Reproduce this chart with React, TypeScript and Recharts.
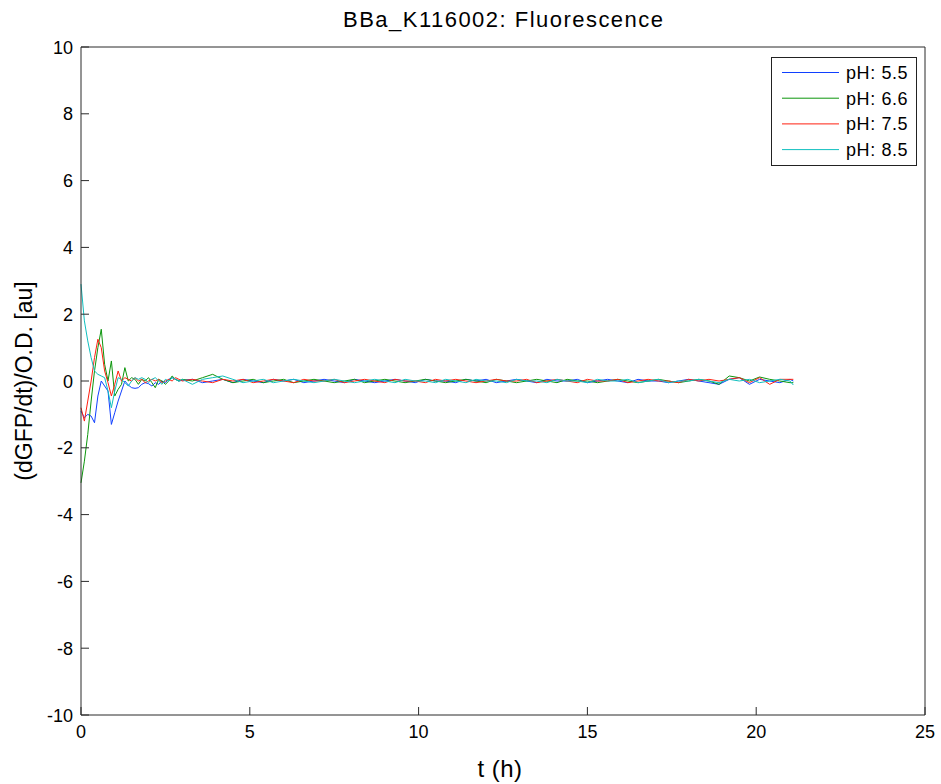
import React from 'react';
import { LineChart, Line, XAxis, YAxis, Legend, Label } from 'recharts';

// sample times in hours (dense at the start where the signal moves)
const times = [
  0, 0.1, 0.2, 0.3, 0.4, 0.5, 0.6, 0.7, 0.8, 0.9,
  1.0, 1.1, 1.2, 1.3, 1.4, 1.5, 1.6, 1.7, 1.8, 1.9,
  2.0, 2.1, 2.2, 2.3, 2.4, 2.5, 2.6, 2.7, 2.8, 2.9, 3.0,
  3.3, 3.6, 3.9, 4.2, 4.5, 4.8, 5.1, 5.4, 5.7, 6.0,
  6.3, 6.6, 6.9, 7.2, 7.5, 7.8, 8.1, 8.4, 8.7, 9.0,
  9.3, 9.6, 9.9, 10.2, 10.5, 10.8, 11.1, 11.4, 11.7, 12.0,
  12.3, 12.6, 12.9, 13.2, 13.5, 13.8, 14.1, 14.4, 14.7, 15.0,
  15.3, 15.6, 15.9, 16.2, 16.5, 16.8, 17.1, 17.4, 17.7, 18.0,
  18.3, 18.6, 18.9, 19.2, 19.5, 19.8, 20.1, 20.4, 20.7, 21.0,
  21.1,
];

const ph55 = [
  -0.9, -1.1, -1.0, -1.05, -1.25, -0.45, 0.0, -0.15, -0.3, -1.3,
  -0.95, -0.6, -0.3, 0.0, -0.12, -0.2, -0.22, -0.2, -0.1, -0.05,
  -0.08, -0.15, -0.05, -0.1, 0.0, -0.05, 0.05, 0.1, 0.05, 0.0, 0.02,
  0.05, -0.05, 0, 0.05, -0.05, 0.05, 0, -0.05, 0.05, 0,
  0.05, -0.05, 0, 0.05, 0, -0.05, 0.05, 0, -0.05, 0,
  0.05, 0, -0.05, 0.05, 0, 0, -0.05, 0.05, 0, 0.05,
  -0.05, 0, 0.05, 0, -0.05, 0.05, 0, 0, 0.05, -0.05,
  0, 0.05, 0, -0.05, 0.05, 0, 0, -0.05, 0, 0.05,
  0, -0.05, -0.1, 0.05, 0.1, -0.1, 0.05, 0, -0.05, 0.05,
  0.0,
];

const ph66 = [
  -3.05, -2.4, -1.6, -0.6, 0.3, 1.0, 1.55, 0.5, 0.0, 0.6,
  -0.45, -0.25, -0.1, 0.4, 0.0, 0.1, 0.05, -0.1, 0.05, 0.0,
  0.1, -0.05, -0.2, 0.05, 0.0, -0.1, 0.0, 0.15, 0.05, 0.0, 0.05,
  0.0, 0.1, 0.2, 0.05, -0.05, 0, 0.05, -0.05, 0, 0.05,
  -0.05, 0, 0.05, 0, -0.05, 0, 0.05, -0.05, 0, 0.05,
  0, -0.05, 0, 0.05, 0, -0.05, 0, 0.05, 0, -0.05,
  0.05, 0, -0.05, 0, 0.05, 0, -0.05, 0.05, 0, 0,
  -0.05, 0, 0.05, 0, -0.05, 0, 0.05, 0, -0.05, 0,
  0.05, 0, -0.1, 0.15, 0.1, 0, 0.12, 0.05, 0, -0.05,
  -0.05,
];

const ph75 = [
  -0.8, -1.2, -0.6, 0.0, 0.7, 1.25, 1.0, 0.3, -0.05, -0.45,
  -0.1, 0.3, 0.0, 0.1, 0.05, 0.0, 0.1, 0.0, 0.05, -0.05,
  0.0, 0.05, 0.0, 0.05, -0.05, 0.0, 0.05, 0.0, 0.1, 0.05, 0.0,
  0.05, 0, -0.05, 0.05, 0, 0.05, -0.05, 0, 0.05, 0,
  -0.05, 0.05, 0, 0, 0.05, -0.05, 0, 0.05, 0, -0.05,
  0.05, 0, 0, -0.05, 0.05, 0, 0.05, 0, -0.05, 0,
  0.05, 0, 0, 0.05, -0.05, 0, 0.05, 0, -0.05, 0.05,
  0, 0, 0.05, -0.05, 0, 0.05, 0, 0, -0.05, 0.05,
  0, 0.05, 0, 0.05, 0.1, -0.05, 0.1, -0.1, 0.05, 0.05,
  0.05,
];

const ph85 = [
  2.9, 1.8, 1.2, 0.7, 0.3, 0.2, 0.15, 0.1, -0.3, -0.8,
  -0.3, 0.1, 0.05, -0.05, -0.15, 0.0, 0.1, 0.05, 0.1, 0.05,
  -0.05, 0.05, 0.1, 0.0, -0.1, 0.05, 0.0, 0.1, 0.05, 0.0, 0.05,
  -0.1, 0.05, 0.1, 0.15, 0.05, -0.05, 0, 0.05, -0.05, 0,
  0.05, 0, -0.05, 0, 0.05, 0, -0.05, 0, 0.05, 0,
  -0.05, 0.05, 0, 0, -0.05, 0.05, 0, -0.05, 0.05, 0,
  0, -0.05, 0.05, 0, 0, -0.05, 0.05, 0, 0, -0.05,
  0.05, 0, 0, 0.05, -0.05, 0, 0.05, -0.05, 0, 0,
  0.05, 0, -0.05, 0.05, 0, 0.05, -0.05, 0, 0.05, 0,
  -0.12,
];

const seriesNames = ['pH: 5.5', 'pH: 6.6', 'pH: 7.5', 'pH: 8.5'];
const seriesKeys = ['a', 'b', 'c', 'd'];
const seriesColors = ['#1040ff', '#0c960c', '#ff2010', '#10bfbf'];

const xTicks = [0, 5, 10, 15, 20, 25];
const yTicks = [-10, -8, -6, -4, -2, 0, 2, 4, 6, 8, 10];

const data = times.map((t, i) => ({
  t,
  a: ph55[i],
  b: ph66[i],
  c: ph75[i],
  d: ph85[i],
}));

const FONT = '"Liberation Sans", Arial, Helvetica, sans-serif';
const AXIS = '#2a2a2a';
const TICK_LEN = 8;

// tick lines point inward (negative tickSize), so the label is pushed back out here
const BottomTick = (props: any) => {
  const { x, y, payload } = props;
  return (
    <text x={x} y={y + TICK_LEN + 23} textAnchor="middle" fontSize={18} fill="#000" fontFamily={FONT}>
      {payload.value}
    </text>
  );
};

const LeftTick = (props: any) => {
  const { x, y, payload } = props;
  return (
    <text x={x - TICK_LEN - 8} y={y + 6.5} textAnchor="end" fontSize={18} fill="#000" fontFamily={FONT}>
      {payload.value}
    </text>
  );
};

const LegendBox = () => (
  <svg width={146} height={109} style={{ display: 'block' }}>
    <rect x={0.5} y={0.5} width={145} height={108} fill="#fff" stroke="#222" />
    {seriesNames.map((name, i) => (
      <g key={name}>
        <line x1={11} x2={68} y1={15.5 + i * 25.7} y2={15.5 + i * 25.7} stroke={seriesColors[i]} />
        <text x={75} y={22 + i * 25.7} fontSize={18} letterSpacing={0.6} fill="#000" fontFamily={FONT}>
          {name}
        </text>
      </g>
    ))}
  </svg>
);

export default function App() {
  return (
    <div style={{ position: 'absolute', left: 0, top: 0, background: '#fff' }}>
      <LineChart
        width={941}
        height={784}
        data={data}
        margin={{ top: 46, right: 15, bottom: 68, left: 80 }}
      >
        <XAxis
          xAxisId="bottom"
          dataKey="t"
          type="number"
          domain={[0, 25]}
          ticks={xTicks}
          height={1}
          tickSize={-TICK_LEN}
          tickMargin={0}
          tickLine={{ stroke: AXIS }}
          tick={<BottomTick />}
          axisLine={{ stroke: AXIS }}
          interval={0}
        >
          <Label
            content={() => (
              <text x={500} y={777} textAnchor="middle" fontSize={24} letterSpacing={0.5} fill="#000" fontFamily={FONT}>
                t (h)
              </text>
            )}
          />
        </XAxis>
        <XAxis
          xAxisId="top"
          dataKey="t"
          type="number"
          orientation="top"
          domain={[0, 25]}
          ticks={xTicks}
          height={1}
          tickSize={-TICK_LEN}
          tickMargin={0}
          tickLine={{ stroke: AXIS }}
          tick={false}
          axisLine={{ stroke: AXIS }}
          interval={0}
        >
          <Label
            content={() => (
              <text
                x={503}
                y={27}
                textAnchor="middle"
                fontSize={22}
                textLength={320}
                lengthAdjust="spacing"
                fill="#000"
                fontFamily={FONT}
              >
                BBa_K116002: Fluorescence
              </text>
            )}
          />
        </XAxis>
        <YAxis
          yAxisId="left"
          type="number"
          domain={[-10, 10]}
          ticks={yTicks}
          width={1}
          tickSize={-TICK_LEN}
          tickMargin={0}
          tickLine={{ stroke: AXIS }}
          tick={<LeftTick />}
          axisLine={{ stroke: AXIS }}
          interval={0}
        >
          <Label
            content={() => (
              <text
                x={32}
                y={381}
                transform="rotate(-90 32 381)"
                textAnchor="middle"
                fontSize={23}
                fill="#000"
                fontFamily={FONT}
              >
                (dGFP/dt)/O.D. [au]
              </text>
            )}
          />
        </YAxis>
        <YAxis
          yAxisId="right"
          type="number"
          orientation="right"
          domain={[-10, 10]}
          ticks={yTicks}
          width={1}
          tickSize={-TICK_LEN}
          tickMargin={0}
          tickLine={{ stroke: AXIS }}
          tick={false}
          axisLine={{ stroke: AXIS }}
          interval={0}
        />
        <Legend
          content={() => <LegendBox />}
          layout="horizontal"
          verticalAlign="middle"
          align="center"
          wrapperStyle={{ left: 771, top: 57, width: 146, height: 109 }}
        />
        {seriesKeys.map((k, i) => (
          <Line
            key={k}
            xAxisId="bottom"
            yAxisId="left"
            dataKey={k}
            name={seriesNames[i]}
            type="linear"
            stroke={seriesColors[i]}
            strokeWidth={1}
            dot={false}
            isAnimationActive={false}
          />
        ))}
      </LineChart>
    </div>
  );
}
